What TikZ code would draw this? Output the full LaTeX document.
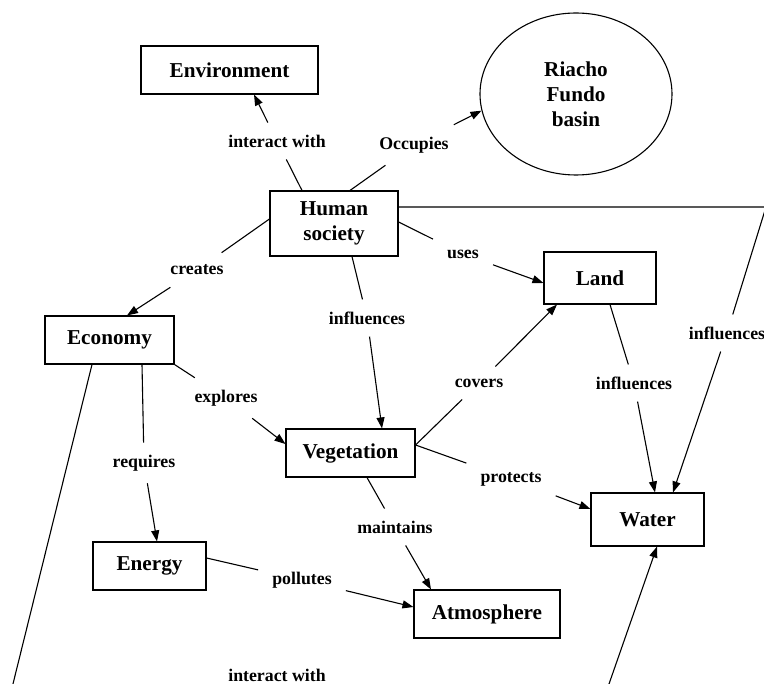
\documentclass[tikz,border=0pt]{standalone}
\usepackage{fontspec}
\setmainfont{Liberation Serif}
\usetikzlibrary{arrows.meta,shapes.geometric,calc}
\begin{document}
\begin{tikzpicture}[x=1pt,y=-1pt,
  box/.style={draw,line width=1.1pt,font=\fontsize{21.2}{25}\selectfont\bfseries,align=center,inner sep=0pt},
  lbl/.style={font=\fontsize{17.8}{21}\selectfont\bfseries,inner xsep=14pt,inner ysep=12pt},
  con/.style={line width=1.1pt},
  arr/.style={line width=1.1pt,-{Triangle[length=11pt,width=8pt]}}]
\useasboundingbox (0,0) rectangle (764,684);
\clip (0,0) rectangle (764,684);
% concepts
\node[box,minimum width=177pt,minimum height=48pt] (env) at (229.5,70) {Environment};
\node[box,ellipse,minimum width=192pt,minimum height=162pt] (rfb) at (576,94) {Riacho\\Fundo\\basin};
\node[box,minimum width=128pt,minimum height=65pt] (hs) at (334,223.5) {Human\\society};
\node[box,minimum width=112pt,minimum height=52pt] (land) at (600,278) {Land};
\node[box,minimum width=129pt,minimum height=48pt] (econ) at (109.5,340) {Economy};
\node[box,minimum width=129pt,minimum height=48pt] (veg) at (350.5,453) {Vegetation};
\node[box,minimum width=113pt,minimum height=48pt] (energy) at (149.5,566) {Energy};
\node[box,minimum width=146pt,minimum height=48pt] (atmos) at (487,614) {Atmosphere};
\node[box,minimum width=113pt,minimum height=53pt] (water) at (647.5,519.5) {Water};
% linking phrases
\node[lbl] (l1) at (277,141) {interact with};
\node[lbl] (l2) at (414,145) {Occupies};
\node[lbl] (l3) at (197,270) {creates};
\node[lbl] (l4) at (367,318) {influences};
\node[lbl] (l5) at (463,254) {uses};
\node[lbl] (l6) at (727,333) {influences};
\node[lbl] (l7) at (226,398) {explores};
\node[lbl] (l8) at (144,463) {requires};
\node[lbl] (l9) at (479,383) {covers};
\node[lbl] (l10) at (634,383) {influences};
\node[lbl] (l11) at (511,479) {protects};
\node[lbl] (l12) at (395,527) {maintains};
\node[lbl] (l13) at (302,580) {pollutes};
\node[lbl] (l14) at (277,675) {interact with};
\coordinate (corner) at (766,207);
\coordinate (offA) at (9,700);
\coordinate (offB) at (603.4,700);
% connectors
\draw[con] ([xshift=-32pt]hs.north) -- (l1);
\draw[arr] (l1) -- ([xshift=24.5pt]env.south);
\draw[con] ([xshift=16pt]hs.north) -- (l2);
\draw[arr] (l2) -- (rfb.190);
\draw[con] ([yshift=4.5pt]hs.west) -- (l3);
\draw[arr] (l3) -- ([xshift=17.5pt]econ.north);
\draw[con] ([xshift=18pt]hs.south) -- (l4);
\draw[arr] (l4) -- ([xshift=31.5pt]veg.north);
\draw[con] ([yshift=1.5pt]hs.east) -- (l5);
\draw[arr] (l5) -- ([yshift=-5pt]land.west);
\draw[con] ([yshift=16.5pt]hs.east) -- (corner) -- (l6);
\draw[arr] (l6) -- ([xshift=25.5pt]water.north);
\draw[con] (econ.south east) -- (l7);
\draw[arr] (l7) -- ([yshift=9pt]veg.west);
\draw[con] ([xshift=32.5pt]econ.south) -- (l8);
\draw[arr] (l8) -- ([xshift=7.5pt]energy.north);
\draw[con] ([yshift=8pt]veg.east) -- (l9);
\draw[arr] (l9) -- ([xshift=-43pt]land.south);
\draw[con] ([xshift=10pt]land.south) -- (l10);
\draw[arr] (l10) -- ([xshift=7.5pt]water.north);
\draw[con] ([yshift=8pt]veg.east) -- (l11);
\draw[arr] (l11) -- ([yshift=10.5pt]water.west);
\draw[con] ([xshift=16.5pt]veg.south) -- (l12);
\draw[arr] (l12) -- ([xshift=-56pt]atmos.north);
\draw[con] ([yshift=8pt]energy.east) -- (l13);
\draw[arr] (l13) -- ([yshift=7pt]atmos.west);
\draw[con] ([xshift=-17.5pt]econ.south) -- (offA);
\draw[arr] (offB) -- ([xshift=9.5pt]water.south);
\end{tikzpicture}
\end{document}
